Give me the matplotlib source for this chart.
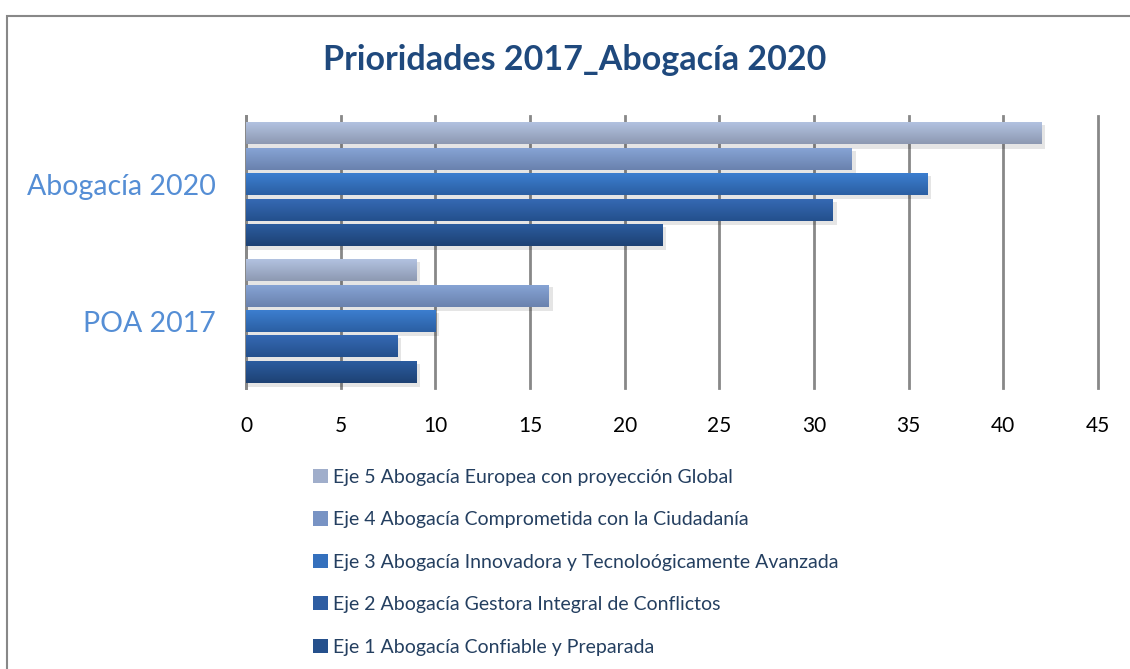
import numpy as np
import matplotlib.pyplot as plt
from matplotlib.patches import Rectangle, Patch

plt.rcParams['font.family'] = ['Lato', 'DejaVu Sans']

categories = ['POA 2017', 'Abogacía 2020']
series = ['Eje 1 Abogacía Confiable y Preparada',
          'Eje 2 Abogacía Gestora Integral de Conflictos',
          'Eje 3 Abogacía Innovadora y Tecnoloógicamente Avanzada',
          'Eje 4 Abogacía Comprometida con la Ciudadanía',
          'Eje 5 Abogacía Europea con proyección Global']
eje1 = [9, 22]
eje2 = [8, 31]
eje3 = [10, 36]
eje4 = [16, 32]
eje5 = [9, 42]
values = [eje1, eje2, eje3, eje4, eje5]

# top / bottom colour of each bar gradient
top_colors = ['#2B5C9F', '#3569B3', '#3C7ECF', '#86A3D4', '#B2C2E0']
bot_colors = ['#1E4274', '#24508D', '#2B5FA3', '#6A82AE', '#8D99B2']
mid_colors = ['#25508C', '#2E5DA2', '#3470BD', '#7893C4', '#A0AECB']

fig = plt.figure(figsize=(11.3, 6.69), dpi=100)
ax = fig.add_axes([0.2177, 0.42, 0.754, 0.4066])

step = 0.186
h = 0.16
y = np.arange(len(categories))
for i, vals in enumerate(values):
    pos = y + (i - 2) * step
    c1 = np.array(plt.matplotlib.colors.to_rgb(top_colors[i]))
    c2 = np.array(plt.matplotlib.colors.to_rgb(bot_colors[i]))
    grad = np.linspace(0, 1, 32)[:, None, None]
    img = c1 * (1 - grad) + c2 * grad
    for p, v in zip(pos, vals):
        # soft shadow
        ax.barh(p - 0.025, v + 0.2, height=h + 0.01, color='#000000', alpha=0.10,
                zorder=2, linewidth=0)
        ax.imshow(img, extent=(0, v, p - h / 2, p + h / 2), aspect='auto',
                  zorder=3, interpolation='bilinear')

ax.set_xlim(0, 45)
ax.set_ylim(-0.49, 1.5)
ax.set_xticks(range(0, 46, 5))
ax.set_yticks(y)
ax.set_yticklabels(categories, color='#558ED5', fontsize=20.5)
ax.tick_params(axis='x', labelsize=15, length=0, pad=20)
ax.tick_params(axis='y', length=0, pad=22)
ax.grid(axis='x', color='#888888', linewidth=2, zorder=1)
for line in ax.get_xgridlines():
    line.set_clip_on(False)
ax.set_axisbelow(True)
for s in ['top', 'right', 'bottom']:
    ax.spines[s].set_visible(False)
ax.spines['left'].set_color('#888888')
ax.spines['left'].set_linewidth(2)

fig.text(0.509, 0.91, 'Prioridades 2017_Abogacía 2020', ha='center', va='center',
         fontsize=24.5, fontweight='bold', color='#1F497D')

handles = [Patch(facecolor=mid_colors[i], edgecolor='none') for i in range(5)][::-1]
fig.legend(handles, series[::-1], loc='upper left', bbox_to_anchor=(0.2616, 0.3255),
           frameon=False, fontsize=14, labelcolor='#243F60', labelspacing=1.31,
           handlelength=0.75, handleheight=0.75, handletextpad=0.25)

fig.patches.append(Rectangle((0.0062, -0.1), 1.1, 1.076, transform=fig.transFigure,
                             fill=False, edgecolor='#888888', linewidth=1.5))

fig.savefig('out.png', dpi=100)
